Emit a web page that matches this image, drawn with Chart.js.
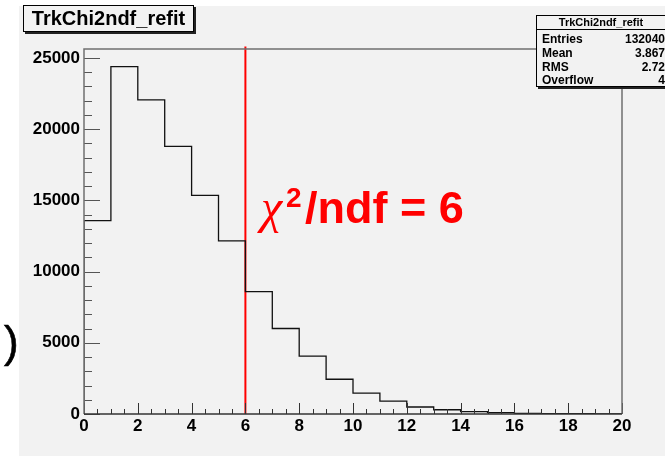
<!DOCTYPE html>
<html>
<head>
<meta charset="UTF-8">
<title>TrkChi2ndf_refit</title>
<script src="https://cdn.jsdelivr.net/npm/chart.js"></script>
<style>
body { margin: 0; background: #fff; font-family: "Liberation Sans", Arial, sans-serif; }
.wrap { position: relative; width: 665px; height: 456px; overflow: hidden; }
.pad { position: absolute; left: 19px; top: 6px; right: 0; bottom: 0; background: #f2f2f2; }
#hist { position: absolute; left: 0; top: 0; }
.title-box {
	position: absolute; left: 23px; top: 5px; width: 169px; height: 25px;
	border: 1px solid #000; box-shadow: 2px 2px 0 #222; background: #f2f2f2;
	font-weight: bold; font-size: 20px; line-height: 25px; text-align: center;
}
.stats {
	position: absolute; left: 536px; top: 15px; width: 140px; height: 70px;
	border: 1px solid #000; box-shadow: 2px 2px 0 #222; background: #f2f2f2;
	font-weight: bold; font-size: 12px;
}
.stats .head { position: absolute; left: 0; width: 128px; top: 0; height: 13px; line-height: 13px; text-align: center; border-bottom: 1px solid #000; font-size: 11px; }
.stats .row { position: absolute; left: 5px; width: 123px; height: 14px; line-height: 14px; }
.stats .row span { position: absolute; right: 0; }
.chi { position: absolute; color: #ff0000; white-space: nowrap; line-height: 1; }
.paren { position: absolute; left: 4px; top: 320px; font-size: 44px; line-height: 1; color: #000; -webkit-text-stroke: 0.6px #000; }
</style>
</head>
<body>
<div class="wrap">
	<div class="pad"></div>
	<canvas id="hist" width="665" height="456"></canvas>
	<div class="title-box">TrkChi2ndf_refit</div>
	<div class="stats">
		<div class="head">TrkChi2ndf_refit</div>
		<div class="row" style="top:16px">Entries<span>132040</span></div>
		<div class="row" style="top:30px">Mean<span>3.867</span></div>
		<div class="row" style="top:44px">RMS<span>2.72</span></div>
		<div class="row" style="top:57px">Overflow<span>4</span></div>
	</div>
	<div class="chi" style="left:261px; top:183px; font-family:'Liberation Serif'; font-style:italic; font-size:48px;">χ</div>
	<div class="chi" style="left:286px; top:184px; font-weight:bold; font-size:28px;">2</div>
	<div class="chi" style="left:305px; top:185px; font-weight:bold; font-size:45px;">/ndf = 6</div>
	<div class="paren">)</div>
</div>

<script>
// bin lower edges and contents
const binLow = [0, 1, 2, 3, 4, 5, 6, 7, 8, 9, 10, 11, 12, 13, 14, 15, 16, 17, 18, 19];
const counts = [13580, 24380, 22050, 18780, 15350, 12150, 8590, 6000, 4060, 2440,
	1470, 900, 490, 300, 170, 90, 50, 30, 20, 0];
const binWidth = 1;
const xTicks = [0, 2, 4, 6, 8, 10, 12, 14, 16, 18, 20];
const yTicks = [0, 5000, 10000, 15000, 20000, 25000];
const yMax = 25620;
const cutX = [6, 6];
const cutY = [0, 25800];

// step outline of the histogram
const last = binLow.length - 1;
const histPts = [{ x: binLow[0], y: 0 }];
binLow.forEach((x, i) => histPts.push({ x: x, y: counts[i] }));
histPts.push({ x: binLow[last] + binWidth, y: counts[last] });
histPts.push({ x: binLow[last] + binWidth, y: 0 });

const cutPts = cutX.map((x, i) => ({ x: x, y: cutY[i] }));

// frame and inner ticks, ROOT style
const rootFrame = {
	id: 'rootFrame',
	afterDatasetsDraw(chart) {
		const c = chart.ctx, a = chart.chartArea;
		const xs = chart.scales.x, ys = chart.scales.y;
		c.save();
		c.lineWidth = 1;
		c.strokeStyle = '#555';
		// y ticks every 1000, long at 5000
		for (let v = 0; v <= 25000; v += 1000) {
			const py = Math.round(ys.getPixelForValue(v)) + 0.5;
			const len = (v % 5000 === 0) ? 16 : 8;
			c.beginPath(); c.moveTo(a.left, py); c.lineTo(a.left + len, py); c.stroke();
		}
		// x ticks every 0.5, long at 2
		c.strokeStyle = '#333';
		for (let v = 0; v <= 20; v += 0.5) {
			const px = Math.round(xs.getPixelForValue(v)) + 0.5;
			const len = (v % 2 === 0) ? 11 : 5;
			c.beginPath(); c.moveTo(px, a.bottom); c.lineTo(px, a.bottom - len); c.stroke();
		}
		// frame
		c.lineWidth = 1.5;
		c.strokeStyle = '#707070';
		c.beginPath();
		c.moveTo(a.left, a.bottom); c.lineTo(a.left, a.top); c.lineTo(a.right, a.top); c.lineTo(a.right, a.bottom);
		c.stroke();
		c.strokeStyle = '#333';
		c.beginPath(); c.moveTo(a.left, a.bottom); c.lineTo(a.right, a.bottom); c.stroke();
		c.restore();
	}
};

const tickFont = { family: 'Liberation Sans', weight: 'bold', size: 17 };

new Chart(document.getElementById('hist'), {
	type: 'scatter',
	data: {
		datasets: [
			{
				data: histPts,
				showLine: true,
				stepped: true,
				borderColor: '#111',
				borderWidth: 1.3,
				pointRadius: 0,
				fill: false
			},
			{
				data: cutPts,
				showLine: true,
				borderColor: '#ff0000',
				borderWidth: 2,
				pointRadius: 0,
				clip: false
			}
		]
	},
	options: {
		responsive: false,
		animation: false,
		events: [],
		layout: { padding: { left: 0, top: 49, right: 43, bottom: 0 } },
		plugins: { legend: { display: false }, tooltip: { enabled: false } },
		scales: {
			x: {
				type: 'linear',
				min: 0, max: 20,
				grid: { display: false, drawTicks: false },
				border: { display: false },
				afterFit: s => { s.height = 42; },
				afterBuildTicks: s => { s.ticks = xTicks.map(v => ({ value: v })); },
				ticks: { color: '#000', font: tickFont, padding: 2, maxRotation: 0, autoSkip: false,
					callback: v => String(v) }
			},
			y: {
				min: 0, max: yMax,
				grid: { display: false, drawTicks: false },
				border: { display: false },
				afterFit: s => { s.width = 84; },
				afterBuildTicks: s => { s.ticks = yTicks.map(v => ({ value: v })); },
				ticks: { color: '#000', font: tickFont, padding: 4, callback: v => String(v) }
			}
		}
	},
	plugins: [rootFrame]
});
</script>
</body>
</html>
